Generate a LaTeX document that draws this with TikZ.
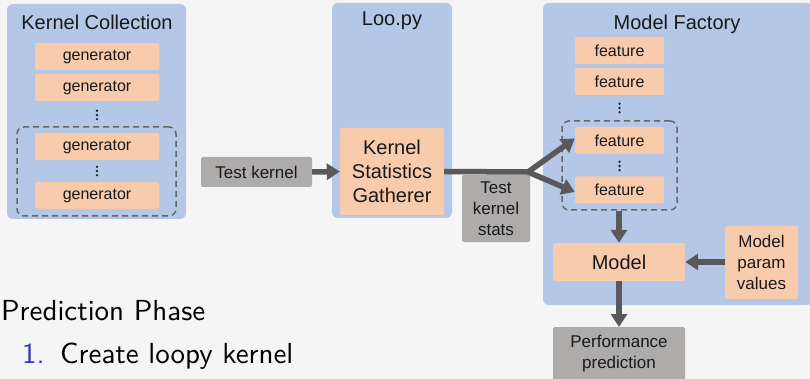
\documentclass[tikz,border=0pt]{standalone}
\usepackage{fontspec}
\newfontfamily\arial{Liberation Sans}
\newfontfamily\lmss{lmsans10-regular.otf}
\usetikzlibrary{arrows.meta}
\definecolor{bg}{HTML}{F5F5F5}
\definecolor{panelblue}{HTML}{B4C7E7}
\definecolor{peach}{HTML}{F8CBAD}
\definecolor{greybox}{HTML}{AEABAB}
\definecolor{arrowgrey}{HTML}{595959}
\definecolor{dashgrey}{HTML}{666666}
\definecolor{beamerblue}{HTML}{3333B3}
\tikzset{
  panel/.style={fill=panelblue, draw=none, rounded corners=6pt, inner sep=0pt},
  peachbox/.style={fill=peach, draw=none, rounded corners=1.5pt, inner sep=0pt, align=center, text=black!90},
  greyb/.style={fill=greybox, draw=none, rounded corners=1.5pt, inner sep=0pt, align=center, text=black!90},
  grp/.style={draw=dashgrey, dashed, dash pattern=on 6pt off 4pt, line width=1.5pt, rounded corners=7pt, inner sep=0pt},
  bigarrow/.style={draw=arrowgrey, line width=5.5pt, -{Triangle[length=13pt,width=16pt]}},
  ttl/.style={font=\arial\fontsize{20}{24}\selectfont, text=black!90},
  f16/.style={font=\arial\fontsize{16}{19}\selectfont},
  f17/.style={font=\arial\fontsize{17}{21}\selectfont},
  f20/.style={font=\arial\fontsize{20}{24}\selectfont},
  vdotsnode/.style={minimum width=4pt, minimum height=12pt, inner sep=0pt,
    path picture={
      \fill[black!85] ([yshift=4.2pt]path picture bounding box.center) circle (1.3pt);
      \fill[black!85] (path picture bounding box.center) circle (1.3pt);
      \fill[black!85] ([yshift=-4.2pt]path picture bounding box.center) circle (1.3pt);
    }}
}
\begin{document}
\begin{tikzpicture}[x=1pt,y=-1pt]
\fill[bg] (0,0) rectangle (810,379);
\useasboundingbox (0,0) rectangle (810,379);

% Kernel Collection
\node[panel, minimum width=179pt, minimum height=215pt] (kc) at (96.5,111.5) {};
\node[ttl] (kct) at (97,22) {Kernel Collection};
\node[peachbox, f16, minimum width=124pt, minimum height=27pt] (g1) at (97,56.5) {generator};
\node[peachbox, f16, minimum width=124pt, minimum height=27pt] (g2) at (97,87.5) {generator};
\node[vdotsnode] (gd1) at (97,115) {};
\node[grp, minimum width=159pt, minimum height=89pt] (gg) at (96.5,171.5) {};
\node[peachbox, f16, minimum width=124pt, minimum height=27pt] (g3) at (97,146.5) {generator};
\node[vdotsnode] (gd2) at (97,171) {};
\node[peachbox, f16, minimum width=124pt, minimum height=27pt] (g4) at (97,195.5) {generator};

% Loo.py
\node[panel, minimum width=120pt, minimum height=215pt] (loo) at (392,110.5) {};
\node[ttl] (loot) at (392,21) {Loo.py};
\node[peachbox, f20, minimum width=104pt, minimum height=87pt] (ksg) at (392,171.5) {Kernel\\Statistics\\Gatherer};

% Test kernel
\node[greyb, f17, minimum width=111pt, minimum height=30pt] (tk) at (256.5,172) {Test kernel};
\node[greyb, f17, minimum width=68pt, minimum height=67pt] (tks) at (496,208.5) {Test\\kernel\\stats};

% Model Factory
\node[panel, minimum width=270pt, minimum height=302pt] (mf) at (678,154) {};
\node[ttl] (mft) at (677,24) {Model Factory};
\node[peachbox, f16, minimum width=89pt, minimum height=27pt] (f1) at (619.5,50.5) {feature};
\node[peachbox, f16, minimum width=89pt, minimum height=27pt] (f2) at (619.5,81.5) {feature};
\node[vdotsnode] (fd1) at (619.5,108) {};
\node[grp, minimum width=115pt, minimum height=89pt] (fg) at (619.5,165.5) {};
\node[peachbox, f16, minimum width=89pt, minimum height=27pt] (f3) at (619.5,140.5) {feature};
\node[vdotsnode] (fd2) at (619.5,166) {};
\node[peachbox, f16, minimum width=89pt, minimum height=27pt] (f4) at (619.5,190) {feature};
\node[peachbox, f20, minimum width=132pt, minimum height=38pt] (model) at (619,262) {Model};
\node[peachbox, f17, minimum width=73pt, minimum height=73pt] (mpv) at (761.5,262.5) {Model\\param\\values};

% Performance prediction
\node[greyb, f17, minimum width=132pt, minimum height=58pt, anchor=north] (perf) at (619,327) {};
\node[f17, align=center, text=black!90] (perft) at (619,354) {Performance\\prediction};

% Arrows
\coordinate (j) at (528,172);
\draw[bigarrow] (tk.east) -- (ksg.west);
\draw[draw=arrowgrey, line width=5.5pt] (ksg.east) -- (j);
\draw[bigarrow, line join=round] (j) -- ([yshift=2pt]f3.west);
\draw[bigarrow, line join=round] (j) -- ([yshift=-2pt]f4.west);
\draw[bigarrow] (fg.south -| model.north) -- (model.north);
\draw[bigarrow] (mpv.west |- model.east) -- (model.east);
\draw[bigarrow] (model.south) -- (perf.north);

% Bottom text
\node[anchor=base west, inner sep=0pt, font=\lmss\fontsize{29}{35}\selectfont] (pp) at (1,320) {Prediction Phase};
\node[anchor=base west, inner sep=0pt, font=\lmss\fontsize{29}{35}\selectfont, text=beamerblue] (n1) at (22,363) {1.};
\node[anchor=base west, inner sep=0pt, font=\lmss\fontsize{29}{35}\selectfont] (ck) at (60,363) {Create loopy kernel};
\end{tikzpicture}
\end{document}
